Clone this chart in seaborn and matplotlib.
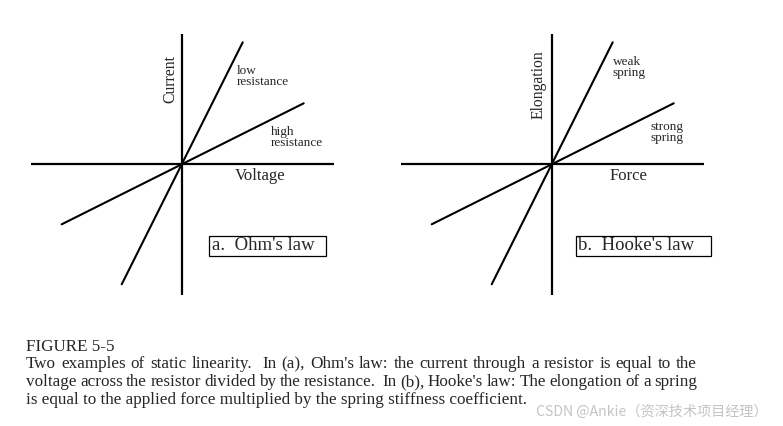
import re
import pandas as pd
import numpy as np
import seaborn as sns
import matplotlib.pyplot as plt
from matplotlib.patches import Rectangle

# values (pixel-ish units, origin at the axis crossing)
ohm_names = ["low\nresistance", "high\nresistance"]
hooke_names = ["weak\nspring", "strong\nspring"]
slopes = [2.0, 0.5]
x_starts = [-60, -120]
x_ends = [61, 122]

caption_lines = [
    "FIGURE 5-5",
    "Two examples of static linearity.  In (a), Ohm's law: the current through a resistor is equal to the",
    "voltage across the resistor divided by the resistance.  In (b), Hooke's law: The elongation of a spring",
    "is equal to the applied force multiplied by the spring stiffness coefficient.",
]

sns.set_theme(style="white")
plt.rcParams['font.family'] = ['Liberation Serif', 'DejaVu Serif']

W, H = 783, 426
fig = plt.figure(figsize=(W / 100, H / 100), dpi=100)
fig.patch.set_facecolor('white')


def make_lines(names):
    rows = []
    for name, k, x0, x1 in zip(names, slopes, x_starts, x_ends):
        for xv in (x0, x1):
            rows.append({'line': name, 'x': xv, 'y': k * xv})
    return pd.DataFrame(rows)


def draw_panel(left_px, names, xlabel, ylabel, box_text, lab_pos, box_x):
    # axes: 303 x 261 px, origin 150.7 px from left, 130.7 px from bottom
    ax = fig.add_axes([left_px / W, (H - 295) / H, 303 / W, 261 / H])
    ax.set_xlim(-150.7, 152.3)
    ax.set_ylim(-130.7, 130.3)
    ax.axis('off')
    ax.axhline(0, color='black', lw=1.6)
    ax.axvline(0, color='black', lw=1.6)
    df = make_lines(names)
    sns.lineplot(data=df, x='x', y='y', units='line', estimator=None,
                 color='black', lw=1.5, ax=ax, legend=False)
    ax.text(lab_pos[0][0], lab_pos[0][1], ylabel, rotation=90, fontsize=11.3,
            ha='center', va='center')
    ax.text(lab_pos[1][0], lab_pos[1][1], xlabel, fontsize=12,
            ha='center', va='center')
    for (tx, ty, ha), name in zip(lab_pos[2:], names):
        ax.text(tx, ty, name, fontsize=9.5, ha=ha, va='center',
                multialignment=ha, linespacing=0.85)
    # label box
    ax.add_patch(Rectangle((box_x[0], -91.7), box_x[1] - box_x[0], 20.3,
                           fc='white', ec='black', lw=0.9, zorder=3,
                           clip_on=False))
    ax.text(box_x[0] + 2.7, -81.5, box_text, fontsize=13.5, ha='left',
            va='center', zorder=4)
    return ax


draw_panel(31, ohm_names, "Voltage", "Current", "a.  Ohm's law",
           [(-11, 85), (78, -12), (55, 88, 'left'), (89, 27, 'left')], (27.3, 144.3))
draw_panel(401, hooke_names, "Force", "Elongation", "b.  Hooke's law",
           [(-12.7, 80), (76.6, -11.4), (61, 97, 'left'), (115.8, 32, 'center')], (24, 159.3))

# caption, lines 2-3 justified to the width of the block
x_left, x_right = 26, 697
ys = [347.3, 364.3, 382.3, 400.3]
cap_size = 12.3
renderer = fig.canvas.get_renderer()
for i, (line, yp) in enumerate(zip(caption_lines, ys)):
    yf = 1 - yp / H
    if i in (1, 2):
        parts = re.split(r'( +)', line)
        words = parts[0::2]
        gaps = [len(g) for g in parts[1::2]]
        texts = [fig.text(0, yf, w, fontsize=cap_size, ha='left', va='center')
                 for w in words]
        widths = [t.get_window_extent(renderer).width for t in texts]
        unit = (x_right - x_left - sum(widths)) / sum(gaps)
        x = x_left
        for j, t in enumerate(texts):
            t.set_x(x / W)
            x += widths[j]
            if j < len(gaps):
                x += gaps[j] * unit
    else:
        fig.text(x_left / W, yf, line, fontsize=cap_size, ha='left', va='center')

fig.text(768 / W, 1 - 411.7 / H, "CSDN @Ankie（资深技术项目经理）", fontsize=10.2,
         ha='right', va='center', color='#c4c4c4',
         family=['Noto Sans CJK SC', 'DejaVu Sans'])

fig.savefig('out.png', dpi=100, facecolor='white')
